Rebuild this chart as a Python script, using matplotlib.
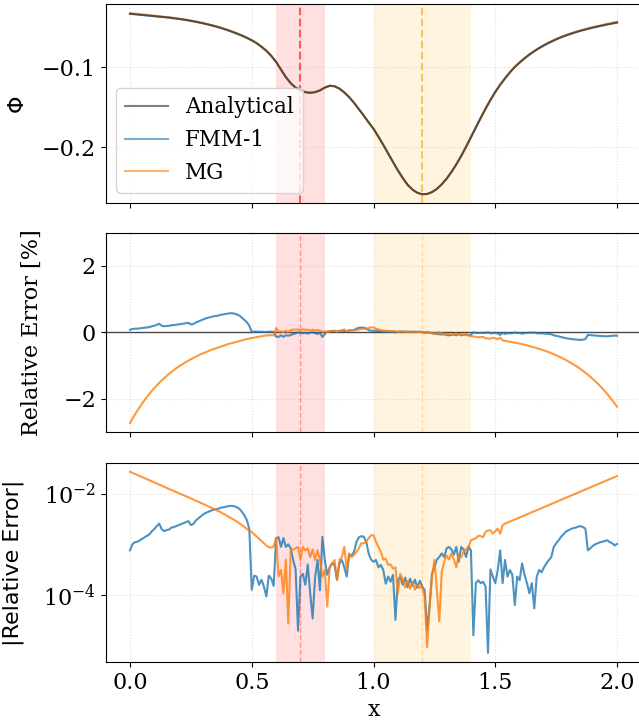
import numpy as np
import matplotlib
matplotlib.use("Agg")
import matplotlib.pyplot as plt
from matplotlib.ticker import FixedLocator, NullLocator

plt.rcParams['font.family'] = ['DejaVu Serif']
plt.rcParams['mathtext.fontset'] = 'dejavuserif'
plt.rcParams['font.size'] = 16

# Potential on a coarse grid (step 0.02)
x_phi = np.linspace(0.0, 2.0, 101)
phi_analytical = np.array([
    -0.0333, -0.0338, -0.0344, -0.0350, -0.0356, -0.0362, -0.0368, -0.0374, -0.0380, -0.0388,
    -0.0396, -0.0405, -0.0415, -0.0426, -0.0438, -0.0451, -0.0465, -0.0480, -0.0497, -0.0515,
    -0.0535, -0.0557, -0.0580, -0.0605, -0.0633, -0.0664, -0.0700, -0.0745, -0.0795, -0.0858,
    -0.0935, -0.1030, -0.1125, -0.1200, -0.1255, -0.1290, -0.1312, -0.1320, -0.1312, -0.1290,
    -0.1255, -0.1232, -0.1238, -0.1268, -0.1315, -0.1375, -0.1445, -0.1525, -0.1605, -0.1690,
    -0.1770, -0.1868, -0.1970, -0.2078, -0.2185, -0.2290, -0.2385, -0.2470, -0.2530, -0.2570,
    -0.2588, -0.2585, -0.2562, -0.2522, -0.2465, -0.2395, -0.2310, -0.2215, -0.2110, -0.1995,
    -0.1875, -0.1755, -0.1635, -0.1520, -0.1410, -0.1310, -0.1220, -0.1140, -0.1065, -0.0998,
    -0.0942, -0.0890, -0.0843, -0.0800, -0.0762, -0.0727, -0.0695, -0.0666, -0.0639, -0.0615,
    -0.0593, -0.0573, -0.0554, -0.0537, -0.0521, -0.0506, -0.0492, -0.0479, -0.0466, -0.0454,
    -0.0442,
])

# Signed relative errors (fraction) on the fine grid (step 0.01)
x_err = np.linspace(0.0, 2.0, 201)
fmm_err = np.array([
    7.6e-4, 1.00e-3, 1.10e-3, 1.12e-3, 1.20e-3, 1.29e-3, 1.38e-3, 1.48e-3, 1.58e-3, 1.82e-3,
    2.00e-3, 2.29e-3, 2.57e-3, 2.00e-3, 1.82e-3, 1.91e-3, 1.95e-3, 2.14e-3, 2.19e-3, 2.29e-3,
    2.40e-3, 2.51e-3, 2.63e-3, 2.75e-3, 2.88e-3, 2.40e-3, 2.51e-3, 2.95e-3, 3.24e-3, 3.55e-3,
    3.89e-3, 4.17e-3, 4.37e-3, 4.57e-3, 4.79e-3, 4.90e-3, 5.01e-3, 5.25e-3, 5.37e-3, 5.50e-3,
    5.62e-3, 5.75e-3, 5.75e-3, 5.62e-3, 5.37e-3, 5.01e-3, 4.37e-3, 3.72e-3, 3.02e-3, 2.00e-3,
    1.26e-4, 2.4e-4, 2.3e-4, 1.58e-4, 2.0e-4, 1.45e-4, 9.3e-5, 2.4e-4, 2.1e-4, 1.5e-4,
    -1.32e-3, -1.38e-3, -8.9e-4, -1.32e-3, -8.9e-4, -1.0e-3, -8.3e-4, -4.9e-4, -3.2e-4, -1.95e-5,
    -2.3e-4, -2.6e-4, -1.58e-4, -4.0e-4, -1.07e-4, -3.4e-5, -2.2e-4, -4.9e-4, -1.23e-4, -1.41e-3,
    -4.9e-4, 2.5e-4, 3.5e-4, 4.2e-4, 3.9e-4, 2.0e-4, 4.2e-4, 4.9e-4, 3.5e-4, 2.3e-4,
    6.3e-4, 6.0e-4, 7.1e-4, 1.12e-3, 1.38e-3, 1.45e-3, 1.41e-3, 1.12e-3, 6.6e-4, 5.0e-4,
    4.5e-4, 4.9e-4, 3.5e-4, 3.9e-4, 3.1e-4, 1.66e-4, 2.3e-4, 1.82e-4, 2.5e-4, 3.2e-5,
    2.0e-4, 2.3e-4, 1.58e-4, 2.2e-4, 1.41e-4, 2.1e-4, 1.51e-4, 2.0e-4, 1.38e-4, 1.9e-4,
    1.45e-4, -1.23e-4, -2.0e-5, -5.8e-5, -2.6e-4, -3.5e-4, -5.0e-4, -5.6e-4, -6.6e-4, -5.6e-4,
    -8.3e-4, -8.9e-4, -7.9e-4, -6.3e-4, -8.9e-4, -4.5e-4, -8.9e-4, -7.9e-4, -5.6e-4, -8.9e-4,
    -7.6e-4, -1.58e-5, -1.7e-4, -1.95e-4, -1.7e-4, -1.82e-4, -1.45e-4, -7.1e-6, -3.2e-4, -2.3e-4,
    -1.7e-4, -3.1e-4, -7.6e-4, -1.7e-4, -4.9e-4, -2.3e-4, -3.1e-4, -2.5e-4, -6.3e-5, -2.3e-4,
    -1.95e-4, -4.2e-4, -2.5e-4, -1.7e-4, -1.07e-4, -1.7e-4, -5.4e-5, -2.3e-4, -3.1e-4, -2.8e-4,
    -3.5e-4, -4.2e-4, -4.9e-4, -5.6e-4, -8.9e-4, -1.05e-3, -1.2e-3, -1.41e-3, -1.58e-3, -1.78e-3,
    -1.9e-3, -2.0e-3, -2.09e-3, -2.14e-3, -2.24e-3, -2.29e-3, -2.19e-3, -2.04e-3, -7.6e-4, -8.3e-4,
    -9.3e-4, -1.0e-3, -1.05e-3, -1.1e-3, -1.12e-3, -1.17e-3, -1.2e-3, -1.1e-3, -1.05e-3, -9.5e-4,
    -1.02e-3,
])
mg_err = np.array([
    -2.73e-2, -2.60e-2, -2.48e-2, -2.36e-2, -2.25e-2, -2.14e-2, -2.04e-2, -1.94e-2, -1.85e-2, -1.76e-2,
    -1.67e-2, -1.60e-2, -1.52e-2, -1.45e-2, -1.38e-2, -1.32e-2, -1.25e-2, -1.19e-2, -1.14e-2, -1.08e-2,
    -1.03e-2, -9.8e-3, -9.4e-3, -8.9e-3, -8.5e-3, -8.1e-3, -7.7e-3, -7.3e-3, -7.0e-3, -6.6e-3,
    -6.3e-3, -6.0e-3, -5.7e-3, -5.4e-3, -5.1e-3, -4.9e-3, -4.6e-3, -4.4e-3, -4.1e-3, -3.9e-3,
    -3.6e-3, -3.4e-3, -3.2e-3, -3.0e-3, -2.8e-3, -2.6e-3, -2.4e-3, -2.2e-3, -2.0e-3, -1.88e-3,
    -1.74e-3, -1.58e-3, -1.43e-3, -1.29e-3, -1.16e-3, -1.05e-3, -9.4e-4, -8.8e-4, -8.6e-4, -9.1e-4,
    1.32e-3, 2.3e-4, 3.1e-4, 1.07e-4, 5.0e-4, 2.7e-5, 7.6e-4, 7.9e-4, 8.3e-4, 8.9e-4,
    4.9e-4, 8.9e-4, 7.6e-4, 8.3e-4, 5.6e-4, 7.9e-4, 4.9e-4, 7.6e-4, 4.9e-4, 2.3e-4,
    3.1e-4, 5.8e-5, 3.5e-4, 4.2e-4, 4.9e-4, 1.95e-4, 4.9e-4, 5.6e-4, 8.9e-4, 3.1e-4,
    6.6e-4, 5.6e-4, 6.2e-4, 7.1e-4, 8.3e-4, 1.05e-3, 1.05e-3, 1.12e-3, 1.32e-3, 1.51e-3,
    1.51e-3, 1.12e-3, 8.9e-4, 7.1e-4, 5.0e-4, 5.2e-4, 3.9e-4, 4.0e-4, 3.3e-4, 3.5e-4,
    1.07e-4, 2.6e-4, 2.0e-4, 1.41e-4, 1.9e-4, 1.32e-4, 1.78e-4, 1.26e-4, 1.58e-4, 1.38e-4,
    1.45e-4, 9.1e-5, -9.3e-6, -5.8e-5, -2.3e-4, -4.9e-4, -1.26e-4, -3.0e-5, -2.8e-4, -4.5e-4,
    -6.0e-4, -5.0e-4, -6.6e-4, -5.0e-4, -3.5e-4, -6.3e-4, -5.6e-4, -7.1e-4, -7.9e-4, -8.9e-4,
    -1.2e-3, -1.26e-3, -1.32e-3, -1.48e-3, -1.45e-3, -1.38e-3, -1.78e-3, -1.86e-3, -1.9e-3, -1.62e-3,
    -1.82e-3, -2.04e-3, -1.62e-3, -2.4e-3, -2.57e-3, -2.69e-3, -2.82e-3, -2.95e-3, -3.09e-3, -3.24e-3,
    -3.40e-3, -3.56e-3, -3.73e-3, -3.92e-3, -4.10e-3, -4.31e-3, -4.51e-3, -4.73e-3, -4.95e-3, -5.20e-3,
    -5.45e-3, -5.71e-3, -5.98e-3, -6.28e-3, -6.58e-3, -6.90e-3, -7.23e-3, -7.59e-3, -7.94e-3, -8.34e-3,
    -8.73e-3, -9.16e-3, -9.59e-3, -1.007e-2, -1.054e-2, -1.107e-2, -1.159e-2, -1.216e-2, -1.274e-2, -1.337e-2,
    -1.400e-2, -1.469e-2, -1.538e-2, -1.614e-2, -1.690e-2, -1.774e-2, -1.858e-2, -1.950e-2, -2.042e-2, -2.143e-2,
    -2.24e-2,
])

# Charge regions: (start, end, centre, colour)
regions = [(0.6, 0.8, 0.7, 'red'), (1.0, 1.4, 1.2, 'orange')]

# Numerical potentials reconstructed from the relative errors
fmm_phi = phi_analytical * (1.0 + fmm_err[::2])
mg_phi = phi_analytical * (1.0 + mg_err[::2])

c_fmm, c_mg = '#1f77b4', '#ff7f0e'

fig = plt.figure(figsize=(6.39, 7.2), dpi=100)
left, width, height = 0.1653, 0.8385, 0.2768
ax1 = fig.add_axes([left, 0.7176, width, height])
ax2 = fig.add_axes([left, 0.4000, width, height], sharex=ax1)
ax3 = fig.add_axes([left, 0.0806, width, height], sharex=ax1)

for i, ax in enumerate((ax1, ax2, ax3)):
    for a, b, c, col in regions:
        ax.axvspan(a, b, color=col, alpha=0.12, lw=0, zorder=0)
        if i == 0:
            ax.axvline(c, color=col, ls='--', lw=1.5, alpha=0.6, zorder=1)
        else:
            ax.axvline(c, color=col, ls='--', lw=1.0, alpha=0.35, zorder=1)
    ax.grid(True, ls=':', lw=0.8, alpha=0.4)
    ax.set_axisbelow(True)

# Potential
ax1.plot(x_phi, fmm_phi, color=c_fmm, lw=1.5, alpha=0.6, label='FMM-1', zorder=2)
ax1.plot(x_phi, mg_phi, color=c_mg, lw=1.5, alpha=0.6, label='MG', zorder=3)
ax1.plot(x_phi, phi_analytical, color='k', lw=1.5, alpha=0.5, label='Analytical', zorder=4)
ax1.set_ylabel('Φ', family='DejaVu Sans')
ax1.yaxis.set_label_coords(-0.147, 0.5)
h, l = ax1.get_legend_handles_labels()
order = [2, 0, 1]
ax1.legend([h[k] for k in order], [l[k] for k in order], loc='lower left', fontsize=15.5)

# Signed relative error in percent
ax2.axhline(0.0, color='k', lw=1.0, alpha=0.7, zorder=1)
ax2.plot(x_err, 100 * fmm_err, color=c_fmm, lw=1.5, alpha=0.8, zorder=2)
ax2.plot(x_err, 100 * mg_err, color=c_mg, lw=1.5, alpha=0.8, zorder=3)
ax2.set_ylim(-3, 3)
ax2.set_ylabel('Relative Error [%]')
ax2.yaxis.set_label_coords(-0.117, 0.5)

# Absolute relative error, log scale
ax3.plot(x_err, np.abs(fmm_err), color=c_fmm, lw=1.5, alpha=0.8, zorder=2)
ax3.plot(x_err, np.abs(mg_err), color=c_mg, lw=1.5, alpha=0.8, zorder=3)
ax3.set_yscale('log')
ax3.yaxis.set_major_locator(FixedLocator([1e-4, 1e-2]))
ax3.yaxis.set_minor_locator(NullLocator())
ax3.set_ylabel('|Relative Error|', family='DejaVu Sans')
ax3.yaxis.set_label_coords(-0.152, 0.5)
ax3.set_xlabel('x')

ax1.set_xlim(-0.1, 2.1)
ax1.set_xticks([0.0, 0.5, 1.0, 1.5, 2.0])
ax1.tick_params(labelbottom=False)
ax2.tick_params(labelbottom=False)

fig.savefig('out.png', dpi=100)
